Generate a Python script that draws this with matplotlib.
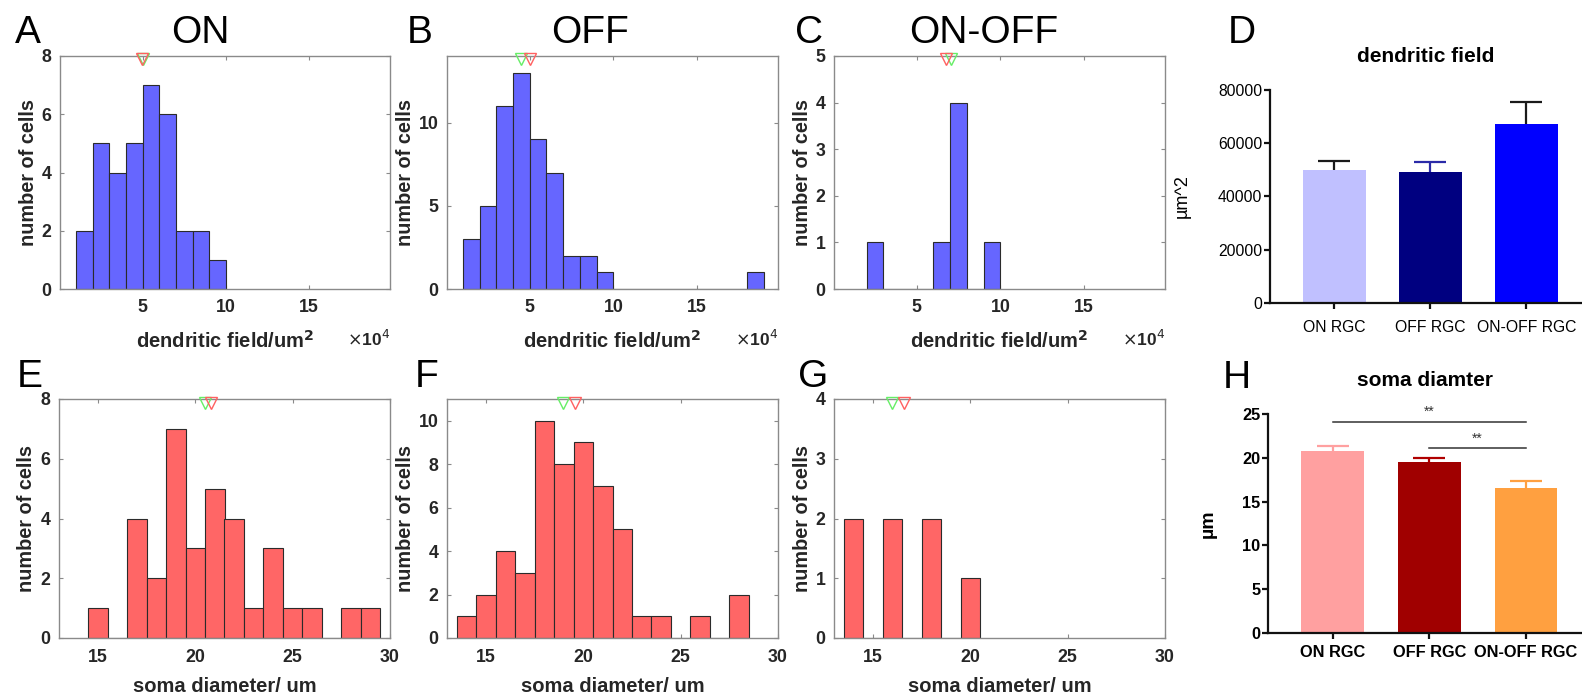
import numpy as np
import matplotlib.pyplot as plt

plt.rcParams['font.family'] = ['Liberation Sans', 'DejaVu Sans']

# ---- data ----
# dendritic field histograms (x10^4 um^2, bin width 1, left edges)
on_dend_left = [1, 2, 3, 4, 5, 6, 7, 8, 9]
on_dend_n = [2, 5, 4, 5, 7, 6, 2, 2, 1]
off_dend_left = [1, 2, 3, 4, 5, 6, 7, 8, 9, 10, 11, 12, 13, 14, 15, 16, 17, 18]
off_dend_n = [3, 5, 11, 13, 9, 7, 2, 2, 1, 0, 0, 0, 0, 0, 0, 0, 0, 1]
onoff_dend_left = [2, 3, 4, 5, 6, 7, 8, 9]
onoff_dend_n = [1, 0, 0, 0, 1, 4, 0, 1]

# soma diameter histograms (um, bin width 1, bin centres)
on_soma_c = [15, 16, 17, 18, 19, 20, 21, 22, 23, 24, 25, 26, 27, 28, 29]
on_soma_n = [1, 0, 4, 2, 7, 3, 5, 4, 1, 3, 1, 1, 0, 1, 1]
off_soma_c = [14, 15, 16, 17, 18, 19, 20, 21, 22, 23, 24, 25, 26, 27, 28]
off_soma_n = [1, 2, 4, 3, 10, 8, 9, 7, 5, 1, 1, 0, 1, 0, 2]
onoff_soma_c = [14, 15, 16, 17, 18, 19, 20]
onoff_soma_n = [2, 0, 2, 0, 2, 0, 1]

# triangle markers (red, green) per histogram
dend_red = [4.97, 5.0, 6.72]
dend_green = [5.05, 4.45, 7.04]
soma_red = [20.8, 19.56, 16.58]
soma_green = [20.5, 18.96, 16.0]

# summary bars
groups = ['ON RGC', 'OFF RGC', 'ON-OFF RGC']
dend_mean = [49900, 49300, 67400]
dend_sem = [3400, 3700, 8000]
soma_mean = [20.8, 19.55, 16.5]
soma_sem = [0.5, 0.45, 0.9]

W, H = 1582, 696
fig = plt.figure(figsize=(W / 100, H / 100), dpi=100)


def rect(l, t, r, b):
    return [l / W, 1 - b / H, (r - l) / W, (b - t) / H]


blue_face = '#6666ff'
red_face = '#ff6666'
edge = '#2b2b2b'
spine_c = '#8a8a8a'


def hist_panel(r, left, counts, align, color, xlim, ylim, yticks, xticks,
               xlabel, red_m, green_m, exp=False, pad=7, lpad=10):
    ax = fig.add_axes(r)
    ax.bar(left, counts, width=1, align=align, color=color,
           edgecolor=edge, linewidth=0.8, zorder=2)
    ax.set_xlim(*xlim)
    ax.set_ylim(*ylim)
    ax.set_xticks(xticks)
    ax.set_yticks(yticks)
    for s in ax.spines.values():
        s.set_color(spine_c)
        s.set_linewidth(1.0)
    ax.tick_params(direction='in', top=True, right=True, length=3,
                   color=spine_c, labelsize=12.8, labelcolor='#262626')
    ax.tick_params(axis='x', pad=pad)
    ax.tick_params(axis='y', pad=6)
    for lab in ax.get_xticklabels() + ax.get_yticklabels():
        lab.set_fontweight('bold')
    ax.set_ylabel('number of cells', fontsize=14.3, fontweight='bold',
                  color='#262626', labelpad=3)
    ax.set_xlabel(xlabel, fontsize=14.5, fontweight='bold', color='#262626',
                  labelpad=lpad)
    tr = ax.get_xaxis_transform()
    ax.plot([green_m], [0.985], marker='v', ms=9, mfc='none', mec='#66ee66',
            mew=1.0, transform=tr, clip_on=False, zorder=5)
    ax.plot([red_m], [0.985], marker='v', ms=9, mfc='none', mec='#ff6060',
            mew=1.0, transform=tr, clip_on=False, zorder=5)
    if exp:
        ax.text(1.0, -0.245, r'$\times$10$^4$', transform=ax.transAxes,
                ha='right', va='baseline', fontsize=12.5, fontweight='bold',
                color='#262626')
    return ax


dlab = 'dendritic field/um$^\\mathbf{2}$'
slab = 'soma diameter/ um'
dx = (0.05, 19.85)
sx = (13, 30)

hist_panel(rect(60, 56, 390, 289), on_dend_left, on_dend_n, 'edge', blue_face,
           dx, (0, 8), [0, 2, 4, 6, 8], [5, 10, 15], dlab,
           dend_red[0], dend_green[0], exp=True)
hist_panel(rect(447, 56, 778, 289), off_dend_left, off_dend_n, 'edge', blue_face,
           dx, (0, 14), [0, 5, 10], [5, 10, 15], dlab,
           dend_red[1], dend_green[1], exp=True)
hist_panel(rect(834, 56, 1165, 289), onoff_dend_left, onoff_dend_n, 'edge',
           blue_face, dx, (0, 5), [0, 1, 2, 3, 4, 5], [5, 10, 15], dlab,
           dend_red[2], dend_green[2], exp=True)

hist_panel(rect(59, 399, 390, 638), on_soma_c, on_soma_n, 'center', red_face,
           sx, (0, 8), [0, 2, 4, 6, 8], [15, 20, 25, 30], slab,
           soma_red[0], soma_green[0], pad=8, lpad=8)
hist_panel(rect(447, 399, 778, 638), off_soma_c, off_soma_n, 'center', red_face,
           sx, (0, 11), [0, 2, 4, 6, 8, 10], [15, 20, 25, 30], slab,
           soma_red[1], soma_green[1], pad=8, lpad=8)
hist_panel(rect(834, 399, 1165, 638), onoff_soma_c, onoff_soma_n, 'center',
           red_face, sx, (0, 4), [0, 1, 2, 3, 4], [15, 20, 25, 30], slab,
           soma_red[2], soma_green[2], pad=8, lpad=8)


def bar_panel(r, means, sems, colors, ecolors, ylim, yticks, title, ylabel,
              bold, xpad, ylpad, ylfs):
    ax = fig.add_axes(r)
    x = np.arange(len(means))
    ax.bar(x, means, width=0.65, color=colors, zorder=2)
    for i in range(len(means)):
        eb = ax.errorbar(x[i], means[i], yerr=[[0], [sems[i]]], fmt='none',
                         ecolor=ecolors[i], elinewidth=1.6, capsize=11.5,
                         capthick=1.6, zorder=1)
        # one-sided bar: drop the cap at the bar top
        caps = eb[1]
        low = min(caps, key=lambda c: c.get_ydata()[0])
        low.set_visible(False)
    ax.set_xlim(-0.67, 2.58)
    ax.set_ylim(*ylim)
    ax.set_yticks(yticks)
    ax.set_xticks(x)
    ax.set_xticklabels(groups)
    ax.spines['top'].set_visible(False)
    ax.spines['right'].set_visible(False)
    for s in ('left', 'bottom'):
        ax.spines[s].set_linewidth(1.6)
        ax.spines[s].set_color('#111111')
    w = 'bold' if bold else 'normal'
    fs = 11.8 if bold else 11.3
    ax.tick_params(direction='out', length=4.5, width=1.6, color='#111111',
                   labelsize=fs)
    ax.tick_params(axis='x', pad=xpad)
    ax.tick_params(axis='y', pad=1)
    for lab in ax.get_xticklabels() + ax.get_yticklabels():
        lab.set_fontweight(w)
    ax.set_title(title, fontsize=15, fontweight='bold', pad=20)
    ax.set_ylabel(ylabel, fontsize=ylfs, fontweight=w, labelpad=ylpad)
    return ax


bar_panel(rect(1270, 90, 1582, 303), dend_mean, dend_sem,
          ['#c0c0ff', '#000080', '#0000ff'], ['#1a1a1a', '#2a2aa8', '#1a1a1a'],
          (0, 80000), [0, 20000, 40000, 60000, 80000], 'dendritic field',
          'µm^2', False, 8, 19.5, 13)
axh = bar_panel(rect(1268, 414, 1582, 633), soma_mean, soma_sem,
                ['#ffa0a0', '#a00000', '#ffa040'], ['#ffa0a0', '#b00000', '#ffa040'],
                (0, 25), [0, 5, 10, 15, 20, 25], 'soma diamter', 'µm', True,
                4, 18, 14)
# significance bars
axh.plot([0, 2], [24.1, 24.1], color='#333333', lw=1.1, clip_on=False)
axh.text(1.0, 24.4, '**', ha='center', va='bottom', fontsize=10,
         color='#333333')
axh.plot([1, 2], [21.1, 21.1], color='#333333', lw=1.1, clip_on=False)
axh.text(1.5, 21.4, '**', ha='center', va='bottom', fontsize=10,
         color='#333333')

# panel letters and column titles
letters = [('A', 15, 43), ('B', 407, 43), ('C', 795, 43), ('D', 1228, 43),
           ('E', 17, 387), ('F', 415, 387), ('G', 798, 387), ('H', 1223, 388)]
for s, x, y in letters:
    fig.text(x / W, 1 - y / H, s, fontsize=28, ha='left', va='baseline')
for s, x in [('ON', 200), ('OFF', 590), ('ON-OFF', 984)]:
    fig.text(x / W, 1 - 43 / H, s, fontsize=28, ha='center', va='baseline')

fig.savefig('out.png', dpi=100)
